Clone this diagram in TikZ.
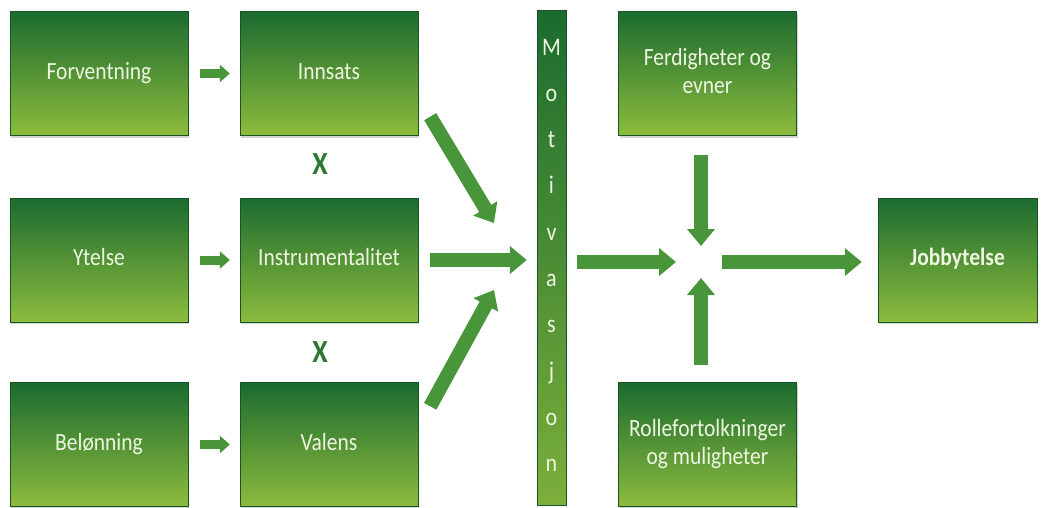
\documentclass[tikz,border=0pt]{standalone}
\usepackage{fontspec}
\setmainfont{Carlito}
\usetikzlibrary{arrows.meta,shadows,calc}
\definecolor{boksopp}{HTML}{1B6B2F}
\definecolor{boksned}{HTML}{8DBB3D}
\definecolor{pilgronn}{HTML}{489639}
\definecolor{tekstlys}{HTML}{EEF6E2}
\newcommand{\hoy}[1]{\scalebox{1}[1.15]{\begin{tabular}{@{}c@{}}#1\end{tabular}}}
\tikzset{
	boks/.style={minimum width=178pt,minimum height=124pt,inner sep=2pt,align=center,
		top color=boksopp,bottom color=boksned,draw=boksopp!80!black,line width=0.4pt,
		text=tekstlys,font=\fontsize{21.5}{24.5}\selectfont,
		drop shadow={shadow xshift=1pt,shadow yshift=-2pt,opacity=0.35}},
	smapil/.style={draw=pilgronn,line width=9pt,-{Triangle[length=10pt,width=17pt]}},
	storpil/.style={draw=pilgronn,line width=14pt,-{Triangle[length=17pt,width=27pt]}},
	ganger/.style={text=boksopp!85!boksned,font=\fontsize{28}{28}\selectfont\bfseries},
	stavelse/.style={text=tekstlys,font=\fontsize{22}{22}\selectfont,inner sep=0pt}
}
\begin{document}
\begin{tikzpicture}[x=1pt,y=-1pt]
	\useasboundingbox (0,0) rectangle (1044,507);
	\node[boks] (forv) at (99,73.5) {\hoy{Forventning}};
	\node[boks] (innsats) at (329,73.5) {\hoy{Innsats}};
	\node[boks] (ytelse) at (99,260) {\hoy{Ytelse}};
	\node[boks] (instr) at (329,260) {\hoy{Instrumentalitet}};
	\node[boks] (belon) at (99,444.5) {\hoy{Belønning}};
	\node[boks] (valens) at (329,444.5) {\hoy{Valens}};
	\node[ganger] (x1) at (320,168) {\hoy{X}};
	\node[ganger] (x2) at (320,356) {\hoy{X}};
	\node[minimum width=29pt,minimum height=495pt,inner sep=0pt,top color=boksopp,
		bottom color=boksned!85!boksopp,draw=boksopp!80!black,line width=0.4pt] (motiv) at (551.5,257.5) {};
	\foreach \l [count=\i] in {M,o,t,i,v,a,s,j,o,n}
		\node[stavelse] (m\i) at (551.5,50+46.3*\i-46.3) {\hoy{\l}};
	\node[boks] (ferdig) at (707.5,73.5) {\hoy{Ferdigheter og\\evner}};
	\node[boks] (rolle) at (707.5,444.5) {\hoy{Rollefortolkninger\\og muligheter}};
	\node[boks,minimum width=159pt,font=\fontsize{21.5}{24.5}\selectfont\bfseries] (jobb) at (957.5,260) {\hoy{Jobbytelse}};
	\coordinate (kryss) at (701,262);
	\coordinate (ned1) at (494,223);
	\coordinate (opp3) at (494,290);

	\draw[smapil,shorten <=12pt,shorten >=10pt] (forv.east) -- (innsats.west);
	\draw[smapil,shorten <=12pt,shorten >=10pt] (ytelse.east) -- (instr.west);
	\draw[smapil,shorten <=12pt,shorten >=10pt] (belon.east) -- (valens.west);
	\draw[storpil] ($(innsats.south east)+(12,-19)$) -- (ned1);
	\draw[storpil,shorten <=12pt,shorten >=10pt] (instr.east) -- (instr.east -| motiv.west);
	\draw[storpil] ($(valens.north east)+(12,24)$) -- (opp3);
	\draw[storpil,shorten <=11pt,shorten >=25pt] (motiv.east |- kryss) -- (kryss);
	\draw[storpil,shorten <=19pt,shorten >=16pt] (ferdig.south -| kryss) -- (kryss);
	\draw[storpil,shorten <=17pt,shorten >=16pt] (rolle.north -| kryss) -- (kryss);
	\draw[storpil,shorten <=21pt,shorten >=16pt] (kryss) -- (kryss -| jobb.west);
\end{tikzpicture}
\end{document}
